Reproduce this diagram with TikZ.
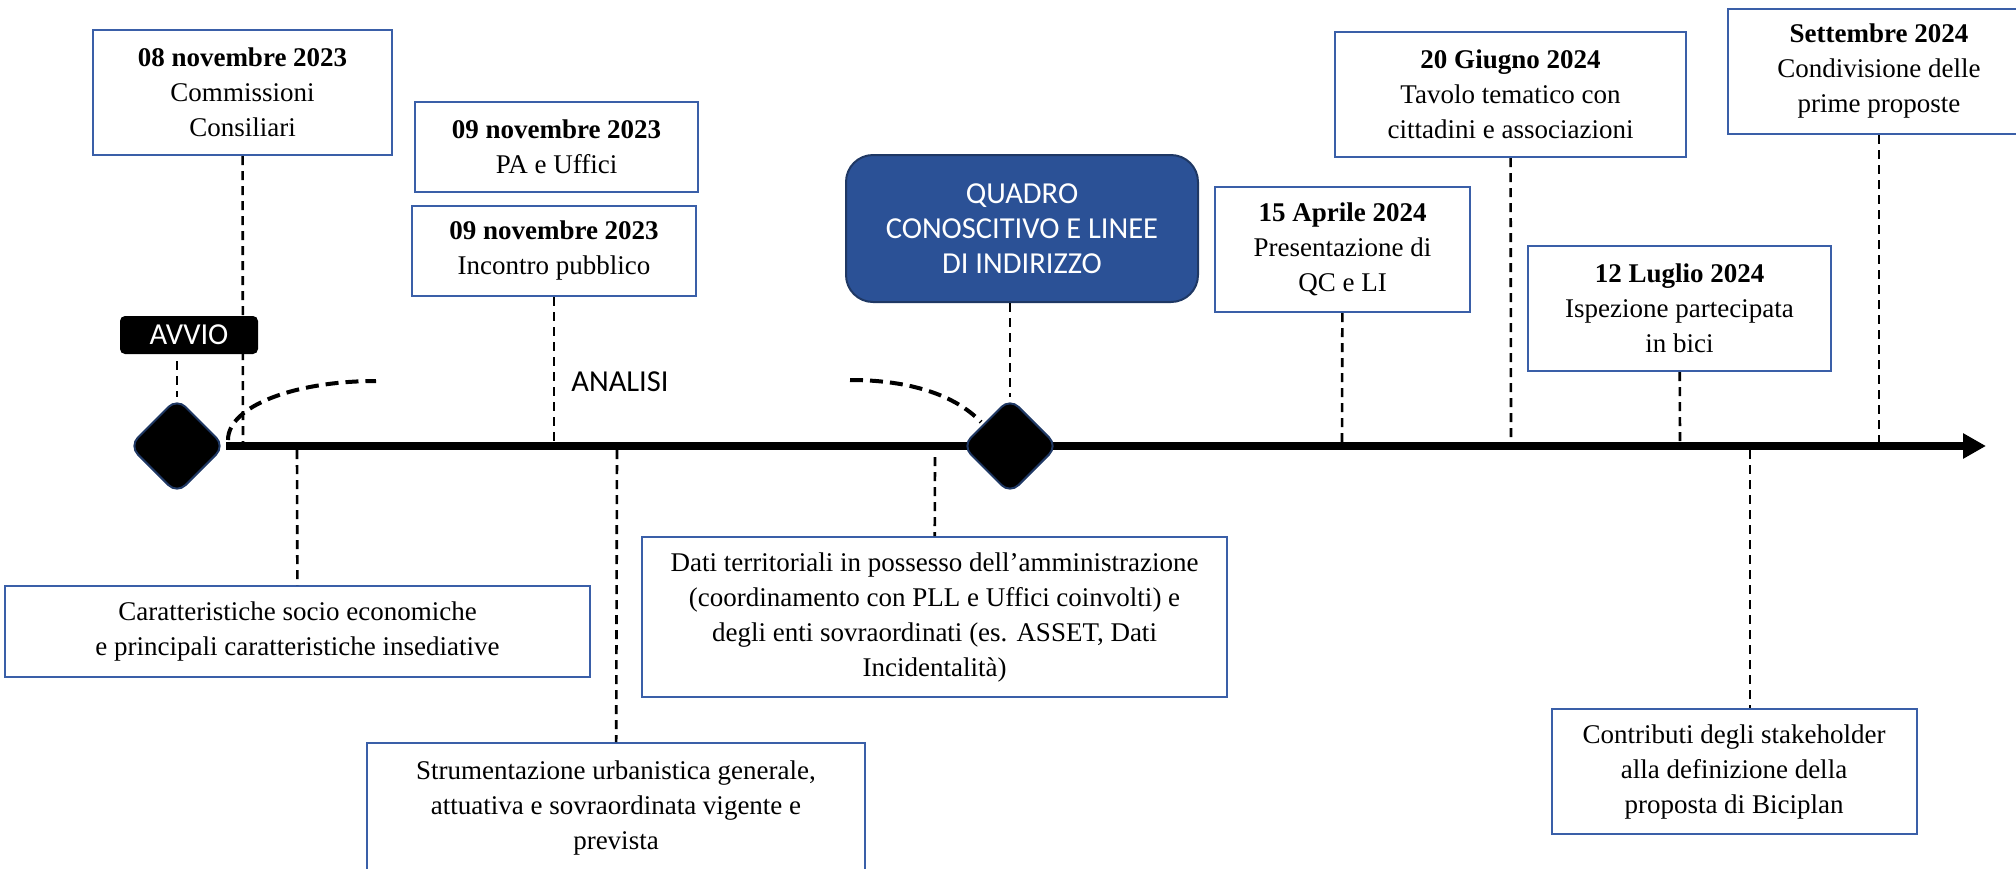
\documentclass[tikz,border=0pt]{standalone}
\usepackage{fontspec}
\setmainfont{Liberation Serif}
\newfontfamily\calibrifont{Carlito}
\usepackage{xcolor}
\usepackage{tikz}
\usetikzlibrary{shapes.geometric, arrows.meta, positioning}
\definecolor{bpnavy}{HTML}{1F3864}
\definecolor{bpblue}{HTML}{2B5196}
\definecolor{bpedge}{HTML}{3A5FA8}

\begin{document}
\begin{tikzpicture}[x=1pt,y=-1pt,font=\fontsize{27}{35}\selectfont,
    evbox/.style={draw=bpedge,line width=2pt,fill=white,align=center,inner sep=0pt},
    tick/.style={line width=2.6pt,dash pattern=on 9pt off 6pt},
    phase/.style={line width=4pt,dash pattern=on 13pt off 7pt},
    milestone/.style={diamond,fill=black,draw=bpnavy,line width=2pt,minimum size=96pt,inner sep=0pt,rounded corners=12pt},
    sanslbl/.style={font=\calibrifont\fontsize{30.5}{35}\selectfont,align=center}]
        \useasboundingbox (0,0) rectangle (2016,868);
        % events above the axis
        \node[evbox,minimum width=299pt,minimum height=125pt] (d08) at (242.5,92.5) {\textbf{08 novembre 2023}\\Commissioni\\Consiliari};
        \node[evbox,minimum width=283pt,minimum height=90pt] (pa) at (556.5,147) {\textbf{09 novembre 2023}\\PA e Uffici};
        \node[evbox,minimum width=284pt,minimum height=90pt] (inc) at (554,251) {\textbf{09 novembre 2023}\\Incontro pubblico};
        \node[draw=bpnavy,line width=2pt,fill=bpblue,rounded corners=27pt,minimum width=352pt,minimum height=147pt,sanslbl,text=white] (quadro) at (1022,228.5) {QUADRO\\CONOSCITIVO E LINEE\\DI INDIRIZZO};
        \node[evbox,minimum width=255pt,minimum height=125pt] (d15) at (1342.5,249.5) {\textbf{15 Aprile 2024}\\Presentazione di\\QC e LI};
        \node[evbox,minimum width=351pt,minimum height=125pt] (d20) at (1510.5,94.5) {\textbf{20 Giugno 2024}\\Tavolo tematico con\\cittadini e associazioni};
        \node[evbox,minimum width=303pt,minimum height=125pt] (d12) at (1679.5,308.5) {\textbf{12 Luglio 2024}\\Ispezione partecipata\\in bici};
        \node[evbox,minimum width=302pt,minimum height=125pt] (dset) at (1879,71.5) {\textbf{Settembre 2024}\\Condivisione delle\\prime proposte};
        % contents below the axis
        \node[evbox,minimum width=585pt,minimum height=91pt] (socio) at (297.5,631.5) {Caratteristiche socio economiche\\e principali caratteristiche insediative};
        \node[evbox,minimum width=498pt,minimum height=130pt] (strum) at (616,808) {Strumentazione urbanistica generale,\\attuativa e sovraordinata vigente e\\prevista};
        \node[evbox,minimum width=585pt,minimum height=160pt] (dati) at (934.5,617) {Dati territoriali in possesso dell’amministrazione\\(coordinamento con PLL e Uffici coinvolti) e\\degli enti sovraordinati (es. ASSET, Dati\\Incidentalità)};
        \node[evbox,minimum width=365pt,minimum height=125pt] (contrib) at (1734,771.5) {Contributi degli stakeholder\\alla definizione della\\proposta di Biciplan};
        % axis
        \node[milestone] (start) at (177,446) {};
        \coordinate (tip) at (1986,446);
        \draw[line width=8pt,-{Triangle[length=23pt,width=24pt]}] (start.east) -- (tip);
        \node[milestone] (qc) at (1010,446) {};
        % ticks
        \coordinate (a08) at (243,442);
        \coordinate (a09) at (554,442);
        \coordinate (a15) at (1342,442);
        \coordinate (a20) at (1511,442);
        \coordinate (a12) at (1680,442);
        \coordinate (aset) at (1879,442);
        \coordinate (b1) at (297,450);
        \coordinate (b2) at (617,450);
        \coordinate (b3) at (935,457);
        \coordinate (b4) at (1750,450);
        \draw[tick] (d08) -- (a08);
        \draw[tick] (inc) -- (a09);
        \draw[tick] (qc.north |- quadro.south) -- (qc.north);
        \draw[tick] (d15) -- (a15);
        \draw[tick] (d20) -- (a20);
        \draw[tick] (d12) -- (a12);
        \draw[tick] (dset) -- (aset);
        \draw[tick] (b1) -- (socio);
        \draw[tick] (b2) -- (strum);
        \draw[tick] (b3) -- (dati);
        \draw[tick] (b4) -- (b4 |- contrib.north);
        % phase labels
        \node[fill=black,rounded corners=5pt,minimum width=138pt,minimum height=38pt,inner sep=0pt,sanslbl,text=white] (avviolbl) at (189,335) {AVVIO};
        \draw[tick] ([yshift=-7pt]start.north |- avviolbl.south) -- (start.north);
        \node[sanslbl] (analisi) at (620,382) {ANALISI};
        \coordinate (arcla) at (228,440);
        \coordinate (arclb) at (376,381);
        \coordinate (arcra) at (850,380);
        \coordinate (arcrb) at (981,422);
        \draw[phase] (arcla) .. controls (228,406) and (295,381) .. (arclb);
        \draw[phase] (arcra) .. controls (910,380) and (955,395) .. (arcrb);
      \end{tikzpicture}
\end{document}
